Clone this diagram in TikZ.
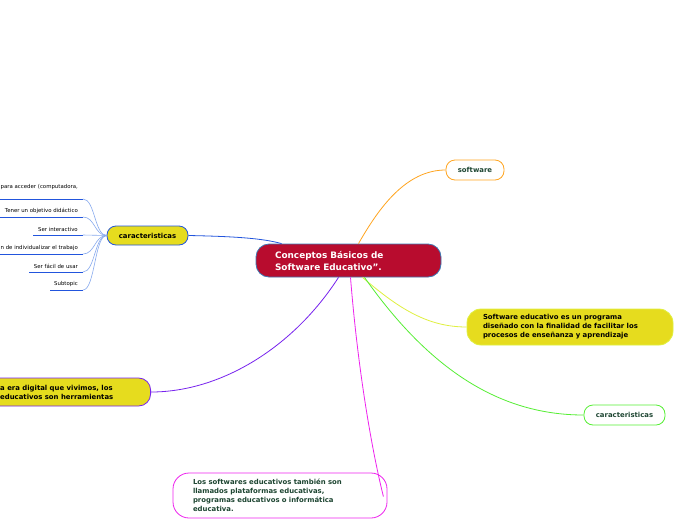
\documentclass[tikz,border=0pt]{standalone}
\usepackage{fontspec}
\setmainfont{DejaVu Sans}
\usepackage{tikz}
\usetikzlibrary{positioning,calc}

\definecolor{crimsonred}{RGB}{184,12,46}
\definecolor{steelblue}{RGB}{60,120,180}
\definecolor{mapyellow}{RGB}{230,220,30}
\definecolor{darkgreentext}{RGB}{30,70,50}
\definecolor{branchorange}{RGB}{255,165,32}
\definecolor{branchlime}{RGB}{224,240,64}
\definecolor{branchgreen}{RGB}{85,238,51}
\definecolor{branchmagenta}{RGB}{238,34,238}
\definecolor{branchpurple}{RGB}{119,34,238}
\definecolor{branchblue}{RGB}{34,85,221}
\definecolor{leafblue}{RGB}{136,170,238}

\tikzset{
    mainnode/.style={draw=steelblue, fill=crimsonred, text=white, line width=0.8pt,
        rounded corners=13pt, minimum width=185pt, minimum height=33pt,
        text width=147pt, align=left, inner xsep=19pt, inner ysep=0pt,
        font=\fontsize{8.9}{12}\selectfont\bfseries},
    topicnode/.style={line width=0.8pt, rounded corners=9pt, inner sep=0pt,
        text=darkgreentext, font=\fontsize{6.9}{9}\selectfont\bfseries},
    subtext/.style={anchor=south east, inner xsep=5pt, inner ysep=0pt, minimum height=11pt,
        align=right, font=\fontsize{5.4}{6.5}\selectfont},
    branch/.style={line width=0.8pt},
    leaf/.style={leafblue, line width=0.6pt},
    underline/.style={branchblue, line width=1pt}
}

\begin{document}
\begin{tikzpicture}[x=1pt,y=-1pt]
    \useasboundingbox (0,0) rectangle (696,520);
    \fill[white] (0,0) rectangle (696,520);
    \clip (0,0) rectangle (696,520);

    % central topic
    \node[mainnode] (central) at (348.5,260.5) {Conceptos Básicos de\\Software Educativo”.};

    % main topics
    \node[topicnode, draw=branchorange, fill=white, minimum width=58pt, minimum height=20pt] (software) at (475,170) {software};
    \node[topicnode, draw=branchlime, fill=mapyellow, text=black, rounded corners=14pt,
        minimum width=206pt, minimum height=36pt, text width=174pt, align=left, inner xsep=16pt] (edu) at (570,327)
        {Software educativo es un programa\\diseñado con la finalidad de facilitar los\\procesos de enseñanza y aprendizaje};
    \node[topicnode, draw=branchgreen, fill=white, minimum width=81pt, minimum height=20pt] (carright) at (624.5,415) {caracteristicas};
    \node[topicnode, draw=branchmagenta, fill=white, rounded corners=16pt,
        minimum width=214pt, minimum height=45pt, text width=174pt, align=left, inner xsep=20pt] (plataformas) at (280,495.5)
        {Los softwares educativos también son\\llamados plataformas educativas,\\programas educativos o informática\\educativa.};
    \node[topicnode, draw=branchpurple, fill=mapyellow, rounded corners=12pt,
        minimum width=230pt, minimum height=28pt, anchor=east] (era) at (151,392) {};
    \node[anchor=west, inner sep=0pt, align=left, font=\fontsize{6.9}{9}\selectfont\bfseries] (eratext) at (0,392)
        {a era digital que vivimos, los\\ educativos son herramientas};
    \node[topicnode, draw=branchblue, fill=mapyellow, text=black, minimum width=81pt, minimum height=19pt] (carleft) at (147.5,235.5) {caracteristicas};

    % subtopics of caracteristicas
    \node[subtext, minimum height=23pt] (s1) at (83,199) {para acceder (computadora,};
    \node[subtext] (s2) at (83,217) {Tener un objetivo didáctico};
    \node[subtext] (s3) at (83,235) {Ser interactivo};
    \node[subtext] (s4) at (83,254) {n de individualizar el trabajo};
    \node[subtext] (s5) at (83,272) {Ser fácil de usar};
    \node[subtext] (s6) at (83,290) {Subtopic};
    \foreach \s/\w in {s1/83, s2/83, s3/50, s4/83, s5/54, s6/33}{
        \draw[underline] (\s.south east) -- ++(-\w,0);
        \draw[leaf] (carleft.west) .. controls +(-12,0) and +(12,0) .. (\s.south east);
    }

    % branches
    \draw[branch, branchblue] (carleft.east) .. controls +(50,1) and +(-18,-5) .. ($(central.north west)+(26,0)$);
    \draw[branch, branchorange] ($(central.north)+(10,0)$) .. controls +(20,-35) and +(-40,0) .. (software.west);
    \draw[branch, branchlime] ($(central.south)+(14,0)$) .. controls +(35,30) and +(-40,0) .. (edu.west);
    \draw[branch, branchgreen] ($(central.south)+(16,0)$) .. controls +(60,85) and +(-90,0) .. (carright.west);
    \draw[branch, branchmagenta] ($(central.south)+(2,0)$) .. controls +(8,100) and +(-10,-40) .. ($(plataformas.east)+(-4,1)$);
    \draw[branch, branchpurple] ($(central.south)+(-10,0)$) .. controls +(-45,70) and +(70,0) .. (era.east);
\end{tikzpicture}
\end{document}
